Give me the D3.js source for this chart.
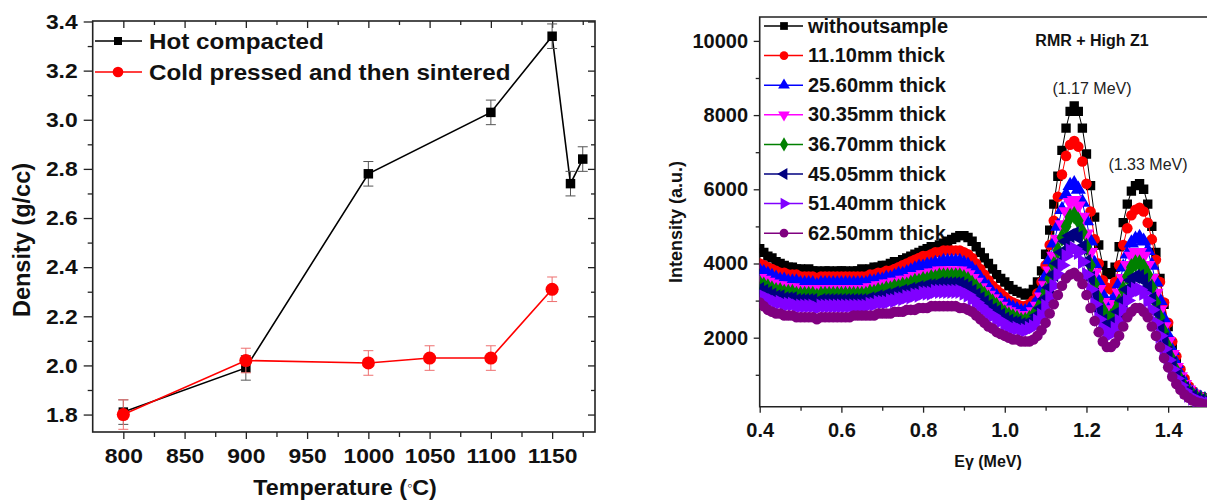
<!DOCTYPE html>
<html>
<head>
<meta charset="utf-8">
<script src="https://cdn.jsdelivr.net/npm/d3@7"></script>
<style>
  body { margin: 0; background: #fff; }
  text { font-family: 'Liberation Sans', Arial, sans-serif; }
</style>
</head>
<body>
<div id="chart"></div>
<script>
// ---- left panel data: density vs temperature
const TEMP_HOT = [800, 900, 1000, 1100, 1150, 1165, 1175];
const DENS_HOT = [1.81, 1.99, 2.78, 3.03, 3.34, 2.74, 2.84];
const ERR_HOT = [0.05, 0.05, 0.05, 0.05, 0.05, 0.05, 0.05];

const TEMP_COLD = [800, 900, 1000, 1050, 1100, 1150];
const DENS_COLD = [1.80, 2.02, 2.01, 2.03, 2.03, 2.31];
const ERR_COLD = [0.06, 0.05, 0.05, 0.05, 0.05, 0.05];

const TEMP_TICKS = [800, 850, 900, 950, 1000, 1050, 1100, 1150];
const TEMP_MINOR = [825, 875, 925, 975, 1025, 1075, 1125, 1175];
const DENS_TICKS = [1.8, 2.0, 2.2, 2.4, 2.6, 2.8, 3.0, 3.2, 3.4];
const DENS_MINOR = [1.9, 2.1, 2.3, 2.5, 2.7, 2.9, 3.1, 3.3];
const LEFT_LEGEND = ['Hot compacted', 'Cold pressed and then sintered'];

// ---- right panel data: gamma spectra (MeV, a.u.)
const ENERGY = [
  0.40, 0.41, 0.42, 0.43, 0.44, 0.45, 0.46, 0.47, 0.48, 0.49,
  0.50, 0.51, 0.52, 0.53, 0.54, 0.55, 0.56, 0.57, 0.58, 0.59,
  0.60, 0.61, 0.62, 0.63, 0.64, 0.65, 0.66, 0.67, 0.68, 0.69,
  0.70, 0.71, 0.72, 0.73, 0.74, 0.75, 0.76, 0.77, 0.78, 0.79,
  0.80, 0.81, 0.82, 0.83, 0.84, 0.85, 0.86, 0.87, 0.88, 0.89,
  0.90, 0.91, 0.92, 0.93, 0.94, 0.95, 0.96, 0.97, 0.98, 0.99,
  1.00, 1.01, 1.02, 1.03, 1.04, 1.05, 1.06, 1.07, 1.08, 1.09,
  1.10, 1.11, 1.12, 1.13, 1.14, 1.15, 1.16, 1.17, 1.18, 1.19,
  1.20, 1.21, 1.22, 1.23, 1.24, 1.25, 1.26, 1.27, 1.28, 1.29,
  1.30, 1.31, 1.32, 1.33, 1.34, 1.35, 1.36, 1.37, 1.38, 1.39,
  1.40, 1.41, 1.42, 1.43, 1.44, 1.45, 1.46, 1.47, 1.48, 1.49,
  1.50];

const WITHOUT_SAMPLE = [
  4400, 4300, 4200, 4150, 4050, 4000, 3950, 3900, 3900, 3850,
  3850, 3800, 3850, 3800, 3800, 3750, 3800, 3800, 3750, 3800,
  3800, 3800, 3750, 3800, 3800, 3850, 3800, 3850, 3900, 3900,
  3950, 3950, 4000, 4050, 4050, 4100, 4150, 4200, 4250, 4300,
  4350, 4400, 4450, 4450, 4500, 4550, 4600, 4650, 4700, 4750,
  4750, 4700, 4600, 4450, 4300, 4150, 4000, 3850, 3700, 3600,
  3500, 3400, 3300, 3250, 3200, 3150, 3200, 3300, 3500, 3800,
  4250, 4900, 5600, 6350, 7050, 7650, 8100, 8250, 8100, 7650,
  6950, 6100, 5250, 4500, 3950, 3750, 3700, 3900, 4450, 5100,
  5600, 5950, 6100, 6150, 6000, 5600, 5000, 4300, 3600, 2900,
  2300, 1800, 1400, 1100, 850, 650, 530, 450, 400, 360,
  330];
const MM_11_10 = [
  4000, 3950, 3900, 3850, 3800, 3750, 3750, 3700, 3700, 3700,
  3650, 3650, 3650, 3650, 3600, 3650, 3650, 3650, 3650, 3650,
  3650, 3650, 3650, 3650, 3650, 3650, 3650, 3700, 3700, 3750,
  3750, 3800, 3800, 3850, 3900, 3950, 4000, 4050, 4100, 4150,
  4200, 4200, 4250, 4300, 4300, 4350, 4350, 4350, 4350, 4350,
  4300, 4250, 4150, 4000, 3850, 3700, 3550, 3400, 3300, 3200,
  3100, 3000, 2950, 2900, 2850, 2850, 2900, 3000, 3200, 3500,
  3950, 4500, 5150, 5800, 6400, 6900, 7200, 7300, 7150, 6750,
  6150, 5400, 4650, 4000, 3550, 3350, 3300, 3500, 3950, 4500,
  4950, 5300, 5450, 5500, 5400, 5100, 4650, 4100, 3500, 2950,
  2400, 1900, 1500, 1150, 900, 700, 560, 470, 410, 370,
  340];
const MM_25_60 = [
  3800, 3750, 3700, 3650, 3600, 3550, 3550, 3500, 3500, 3500,
  3450, 3450, 3450, 3450, 3400, 3450, 3450, 3450, 3450, 3450,
  3450, 3450, 3450, 3450, 3450, 3450, 3450, 3500, 3500, 3550,
  3550, 3600, 3600, 3650, 3700, 3700, 3750, 3800, 3850, 3900,
  3900, 3950, 3950, 4000, 4000, 4050, 4050, 4050, 4050, 4050,
  4000, 3950, 3850, 3750, 3600, 3450, 3350, 3200, 3100, 3000,
  2900, 2850, 2800, 2750, 2700, 2700, 2750, 2850, 3000, 3300,
  3650, 4100, 4550, 5000, 5450, 5850, 6100, 6150, 6000, 5650,
  5150, 4600, 4000, 3500, 3150, 2950, 2950, 3100, 3450, 3900,
  4250, 4550, 4650, 4700, 4600, 4350, 3950, 3500, 3000, 2500,
  2050, 1650, 1300, 1000, 780, 620, 500, 420, 370, 330,
  300];
const MM_30_35 = [
  3600, 3550, 3500, 3450, 3400, 3400, 3350, 3350, 3350, 3300,
  3300, 3300, 3300, 3300, 3250, 3300, 3300, 3300, 3300, 3300,
  3300, 3300, 3300, 3300, 3300, 3300, 3300, 3350, 3350, 3400,
  3400, 3450, 3450, 3500, 3500, 3550, 3550, 3600, 3650, 3650,
  3700, 3700, 3750, 3750, 3800, 3800, 3800, 3800, 3800, 3800,
  3750, 3700, 3600, 3500, 3350, 3250, 3150, 3050, 2950, 2850,
  2750, 2700, 2650, 2600, 2550, 2550, 2600, 2700, 2850, 3100,
  3400, 3800, 4200, 4650, 5050, 5400, 5650, 5700, 5550, 5250,
  4800, 4300, 3750, 3300, 2950, 2750, 2750, 2900, 3200, 3600,
  3950, 4200, 4300, 4300, 4200, 3950, 3600, 3200, 2750, 2300,
  1900, 1550, 1200, 950, 740, 590, 480, 400, 350, 310,
  280];
const MM_36_70 = [
  3450, 3400, 3350, 3300, 3250, 3250, 3200, 3200, 3200, 3150,
  3150, 3150, 3150, 3150, 3100, 3150, 3150, 3150, 3150, 3150,
  3150, 3150, 3150, 3150, 3150, 3150, 3150, 3200, 3200, 3250,
  3250, 3300, 3300, 3350, 3350, 3400, 3400, 3450, 3500, 3500,
  3550, 3550, 3600, 3600, 3650, 3650, 3650, 3650, 3650, 3650,
  3600, 3550, 3450, 3350, 3250, 3150, 3050, 2950, 2850, 2750,
  2650, 2600, 2550, 2500, 2450, 2450, 2500, 2600, 2750, 2950,
  3250, 3600, 3950, 4350, 4700, 5000, 5250, 5300, 5150, 4850,
  4450, 3950, 3450, 3050, 2750, 2550, 2550, 2700, 2950, 3300,
  3650, 3900, 4000, 4000, 3900, 3700, 3350, 2950, 2550, 2150,
  1750, 1400, 1100, 870, 680, 540, 440, 370, 320, 290,
  260];
const MM_45_05 = [
  3300, 3250, 3200, 3150, 3100, 3100, 3050, 3050, 3050, 3000,
  3000, 3000, 3000, 3000, 2950, 3000, 3000, 3000, 3000, 3000,
  3000, 3000, 3000, 3000, 3000, 3000, 3000, 3050, 3050, 3100,
  3100, 3150, 3150, 3200, 3200, 3250, 3250, 3300, 3300, 3350,
  3350, 3400, 3400, 3400, 3450, 3450, 3450, 3450, 3450, 3450,
  3400, 3350, 3250, 3150, 3050, 2950, 2850, 2750, 2700, 2600,
  2500, 2450, 2400, 2400, 2350, 2350, 2400, 2450, 2600, 2800,
  3050, 3350, 3700, 4000, 4300, 4600, 4750, 4800, 4700, 4450,
  4050, 3600, 3150, 2750, 2450, 2300, 2300, 2450, 2700, 3000,
  3300, 3550, 3650, 3650, 3550, 3350, 3050, 2700, 2300, 1950,
  1600, 1300, 1000, 800, 630, 500, 410, 340, 300, 270,
  240];
const MM_51_40 = [
  3150, 3100, 3050, 3000, 2950, 2950, 2900, 2900, 2900, 2850,
  2850, 2850, 2850, 2850, 2800, 2850, 2850, 2850, 2850, 2850,
  2850, 2850, 2850, 2850, 2850, 2850, 2850, 2900, 2900, 2950,
  2950, 2950, 3000, 3000, 3050, 3050, 3100, 3100, 3150, 3150,
  3200, 3200, 3200, 3250, 3250, 3250, 3250, 3250, 3250, 3250,
  3200, 3150, 3050, 2950, 2850, 2750, 2650, 2600, 2500, 2450,
  2350, 2300, 2250, 2250, 2200, 2200, 2250, 2300, 2450, 2600,
  2850, 3100, 3400, 3700, 3950, 4200, 4350, 4400, 4300, 4050,
  3700, 3300, 2900, 2500, 2250, 2100, 2100, 2250, 2450, 2750,
  3000, 3200, 3300, 3300, 3200, 3000, 2750, 2400, 2050, 1700,
  1400, 1150, 900, 720, 560, 450, 370, 310, 270, 240,
  220];
const MM_62_50 = [
  2950, 2850, 2750, 2700, 2650, 2650, 2600, 2600, 2600, 2550,
  2550, 2550, 2550, 2550, 2500, 2550, 2550, 2550, 2550, 2550,
  2550, 2550, 2550, 2600, 2600, 2600, 2600, 2600, 2600, 2650,
  2650, 2650, 2650, 2700, 2700, 2700, 2750, 2750, 2750, 2800,
  2800, 2800, 2850, 2850, 2850, 2850, 2850, 2850, 2850, 2800,
  2800, 2750, 2700, 2600, 2500, 2400, 2300, 2250, 2150, 2100,
  2050, 2000, 1950, 1950, 1900, 1900, 1900, 1950, 2050, 2200,
  2400, 2650, 2900, 3150, 3400, 3600, 3700, 3750, 3650, 3450,
  3150, 2800, 2450, 2150, 1900, 1750, 1750, 1850, 2050, 2300,
  2550, 2700, 2800, 2800, 2700, 2550, 2300, 2050, 1750, 1450,
  1200, 950, 750, 600, 470, 380, 310, 260, 230, 200,
  180];

const SERIES_LABELS = ['withoutsample', '11.10mm thick', '25.60mm thick', '30.35mm thick',
  '36.70mm thick', '45.05mm thick', '51.40mm thick', '62.50mm thick'];
const SERIES_VALUES = [WITHOUT_SAMPLE, MM_11_10, MM_25_60, MM_30_35, MM_36_70, MM_45_05, MM_51_40, MM_62_50];
const SERIES_COLORS = ['#000000', '#ff0000', '#0000ff', '#ff00ff', '#008000', '#000080', '#8000ff', '#800080'];
const SERIES_SYMBOLS = ['square', 'circle', 'up', 'down', 'diamond', 'left', 'right', 'circle'];

const E_TICKS = [0.4, 0.6, 0.8, 1.0, 1.2, 1.4];
const E_MINOR = [0.5, 0.7, 0.9, 1.1, 1.3];
const I_TICKS = [2000, 4000, 6000, 8000, 10000];
const I_MINOR = [1000, 3000, 5000, 7000, 9000];

// ---------------------------------------------------------------
const svg = d3.select('#chart').append('svg')
  .attr('width', 1207)
  .attr('height', 503)
  .style('display', 'block');

svg.append('rect').attr('width', 1207).attr('height', 503).attr('fill', '#fff');

const AXIS_COLOR = '#222';

function symbolPath(kind, size) {
  const types = { square: d3.symbolSquare, circle: d3.symbolCircle, diamond: d3.symbolDiamond };
  return d3.symbol().type(types[kind] || d3.symbolTriangle).size(size)();
}
function symbolRotate(kind) {
  return { down: 180, left: -90, right: 90 }[kind] || 0;
}

function styleAxis(g) {
  g.select('.domain').remove();
  g.selectAll('line').attr('stroke', AXIS_COLOR).attr('stroke-width', 1.3);
  g.selectAll('text').attr('fill', '#111').attr('font-weight', 'bold');
}

// ================= LEFT PANEL =================
const L = { x0: 92.7, x1: 595, y0: 21, y1: 432 };
const xL = d3.scaleLinear().domain([775, 1185]).range([L.x0, L.x1]);
const yL = d3.scaleLinear().domain([1.729, 3.402]).range([L.y1, L.y0]);

const gL = svg.append('g');

// bottom
gL.append('g').attr('transform', `translate(0,${L.y1})`)
  .call(d3.axisBottom(xL).tickValues(TEMP_MINOR).tickSize(5).tickFormat(''))
  .call(styleAxis);
gL.append('g').attr('transform', `translate(0,${L.y1})`)
  .call(d3.axisBottom(xL).tickValues(TEMP_TICKS).tickSize(7).tickPadding(9).tickFormat(d3.format('d')))
  .call(styleAxis)
  .call(g => g.selectAll('text').attr('font-size', 21).attr('transform', 'scale(1.09,1)'));
// top (inward)
gL.append('g').attr('transform', `translate(0,${L.y0})`)
  .call(d3.axisTop(xL).tickValues(TEMP_MINOR).tickSize(-4).tickFormat(''))
  .call(styleAxis);
gL.append('g').attr('transform', `translate(0,${L.y0})`)
  .call(d3.axisTop(xL).tickValues(TEMP_TICKS).tickSize(-7).tickFormat(''))
  .call(styleAxis);
// left
gL.append('g').attr('transform', `translate(${L.x0},0)`)
  .call(d3.axisLeft(yL).tickValues(DENS_MINOR).tickSize(5).tickFormat(''))
  .call(styleAxis);
gL.append('g').attr('transform', `translate(${L.x0},0)`)
  .call(d3.axisLeft(yL).tickValues(DENS_TICKS).tickSize(9).tickPadding(6).tickFormat(d3.format('.1f')))
  .call(styleAxis)
  .call(g => g.selectAll('text').attr('font-size', 21)
    .attr('x', -15 / 1.09).attr('transform', 'scale(1.09,1)'));
// right (inward)
gL.append('g').attr('transform', `translate(${L.x1},0)`)
  .call(d3.axisRight(yL).tickValues(DENS_MINOR).tickSize(-4).tickFormat(''))
  .call(styleAxis);
gL.append('g').attr('transform', `translate(${L.x1},0)`)
  .call(d3.axisRight(yL).tickValues(DENS_TICKS).tickSize(-7).tickFormat(''))
  .call(styleAxis);

gL.append('rect')
  .attr('x', L.x0).attr('y', L.y0)
  .attr('width', L.x1 - L.x0).attr('height', L.y1 - L.y0)
  .attr('fill', 'none').attr('stroke', AXIS_COLOR).attr('stroke-width', 1.6);

// axis titles
gL.append('text')
  .attr('transform', 'translate(345,495) scale(1.06,1)')
  .attr('text-anchor', 'middle').attr('font-size', 22).attr('font-weight', 'bold').attr('fill', '#111')
  .text('Temperature (')
  .call(t => t.append('tspan').attr('font-size', 14).attr('dy', -5).text('\u25E6'))
  .call(t => t.append('tspan').attr('dy', 5).text('C)'));

gL.append('text')
  .attr('transform', 'translate(30,240) rotate(-90)')
  .attr('text-anchor', 'middle').attr('font-size', 23.5).attr('font-weight', 'bold').attr('fill', '#111')
  .text('Density (g/cc)');

const lineL = d3.line().x(d => xL(d[0])).y(d => yL(d[1]));

function drawDensity(temps, dens, errs, color, errColor, kind, size) {
  const pts = d3.zip(temps, dens, errs);
  const g = gL.append('g');
  g.append('path').datum(pts).attr('d', lineL)
    .attr('fill', 'none').attr('stroke', color).attr('stroke-width', 1.6);
  const eb = g.selectAll('g.err').data(pts).join('g').attr('class', 'err')
    .attr('stroke', errColor).attr('stroke-width', 1);
  eb.append('line')
    .attr('x1', d => xL(d[0])).attr('x2', d => xL(d[0]))
    .attr('y1', d => yL(d[1] - d[2])).attr('y2', d => yL(d[1] + d[2]));
  eb.append('line')
    .attr('x1', d => xL(d[0]) - 5).attr('x2', d => xL(d[0]) + 5)
    .attr('y1', d => yL(d[1] - d[2])).attr('y2', d => yL(d[1] - d[2]));
  eb.append('line')
    .attr('x1', d => xL(d[0]) - 5).attr('x2', d => xL(d[0]) + 5)
    .attr('y1', d => yL(d[1] + d[2])).attr('y2', d => yL(d[1] + d[2]));
  g.selectAll('path.mk').data(pts).join('path').attr('class', 'mk')
    .attr('d', symbolPath(kind, size))
    .attr('transform', d => `translate(${xL(d[0])},${yL(d[1])})`)
    .attr('fill', color);
}

drawDensity(TEMP_HOT, DENS_HOT, ERR_HOT, '#000', '#555', 'square', 90);
drawDensity(TEMP_COLD, DENS_COLD, ERR_COLD, '#ff0000', '#ee7070', 'circle', 135);

// left legend
const legL = gL.append('g');
[['#000', 'square', 64], ['#ff0000', 'circle', 90]].forEach((s, i) => {
  const y = 41 + i * 31;
  legL.append('line').attr('x1', 95).attr('x2', 142).attr('y1', y).attr('y2', y)
    .attr('stroke', s[0]).attr('stroke-width', 1.6);
  legL.append('path').attr('d', symbolPath(s[1], s[2]))
    .attr('transform', `translate(118,${y})`).attr('fill', s[0]);
  legL.append('text')
    .attr('transform', `translate(149,${y + 7.5}) scale(1.1,1)`)
    .attr('font-size', 22).attr('font-weight', 'bold').attr('fill', '#111')
    .text(LEFT_LEGEND[i]);
});

// ================= RIGHT PANEL =================
const R = { x0: 759.7, x1: 1209, y0: 17, y1: 406.7 };
const xR = d3.scaleLinear().domain([0.4, 1.5]).range([R.x0, R.x1]);
const yR = d3.scaleLinear().domain([140, 10644]).range([R.y1, R.y0]);

const gR = svg.append('g');

gR.append('g').attr('transform', `translate(0,${R.y1})`)
  .call(d3.axisBottom(xR).tickValues(E_MINOR).tickSize(4).tickFormat(''))
  .call(styleAxis);
gR.append('g').attr('transform', `translate(0,${R.y1})`)
  .call(d3.axisBottom(xR).tickValues(E_TICKS).tickSize(6).tickPadding(10).tickFormat(d3.format('.1f')))
  .call(styleAxis)
  .call(g => g.selectAll('text').attr('font-size', 20));
gR.append('g').attr('transform', `translate(${R.x0},0)`)
  .call(d3.axisLeft(yR).tickValues(I_MINOR).tickSize(4).tickFormat(''))
  .call(styleAxis);
gR.append('g').attr('transform', `translate(${R.x0},0)`)
  .call(d3.axisLeft(yR).tickValues(I_TICKS).tickSize(6).tickPadding(5.7).tickFormat(d3.format('d')))
  .call(styleAxis)
  .call(g => g.selectAll('text').attr('font-size', 20));

gR.append('path')
  .attr('d', `M${R.x1},${R.y0}H${R.x0}V${R.y1}H${R.x1}`)
  .attr('fill', 'none').attr('stroke', AXIS_COLOR).attr('stroke-width', 1.6);

gR.append('text')
  .attr('x', 988).attr('y', 467)
  .attr('text-anchor', 'middle').attr('font-size', 16).attr('font-weight', 'bold').attr('fill', '#111')
  .text('E\u03B3 (MeV)');
gR.append('text')
  .attr('transform', 'translate(682,222) rotate(-90)')
  .attr('text-anchor', 'middle').attr('font-size', 18).attr('font-weight', 'bold').attr('fill', '#111')
  .text('Intensity (a.u.)');

// legend (drawn under the spectra)
const legR = gR.append('g');
SERIES_LABELS.forEach((label, i) => {
  const y = 26 + i * 29.6;
  legR.append('line').attr('x1', 764).attr('x2', 803).attr('y1', y).attr('y2', y)
    .attr('stroke', SERIES_COLORS[i]).attr('stroke-width', 1.5);
  legR.append('path').attr('d', symbolPath(SERIES_SYMBOLS[i], 60))
    .attr('transform', `translate(784,${y}) rotate(${symbolRotate(SERIES_SYMBOLS[i])})`)
    .attr('fill', SERIES_COLORS[i]);
  legR.append('text')
    .attr('x', 808).attr('y', y + 6.5)
    .attr('font-size', 20).attr('font-weight', 'bold').attr('fill', '#111')
    .text(label);
});

svg.append('clipPath').attr('id', 'clipR').append('rect')
  .attr('x', R.x0).attr('y', R.y0).attr('width', R.x1 - R.x0).attr('height', R.y1 - R.y0);

const plotR = gR.append('g').attr('clip-path', 'url(#clipR)');
const lineR = d3.line().x(d => xR(d[0])).y(d => yR(d[1]));

SERIES_VALUES.forEach((vals, i) => {
  const pts = d3.zip(ENERGY, vals);
  const g = plotR.append('g');
  const kind = SERIES_SYMBOLS[i];
  g.append('path').datum(pts).attr('d', lineR)
    .attr('fill', 'none').attr('stroke', SERIES_COLORS[i]).attr('stroke-width', 1);
  g.selectAll('path.mk').data(pts).join('path').attr('class', 'mk')
    .attr('d', symbolPath(kind, kind === 'square' || kind === 'circle' ? 88 : 100))
    .attr('transform', d => `translate(${xR(d[0])},${yR(d[1])}) rotate(${symbolRotate(kind)})`)
    .attr('fill', SERIES_COLORS[i]);
});

// annotations
gR.append('text').attr('x', 1092).attr('y', 46)
  .attr('text-anchor', 'middle').attr('font-size', 16).attr('font-weight', 'bold').attr('fill', '#111')
  .text('RMR + High Z1');
gR.append('text').attr('x', 1092).attr('y', 94)
  .attr('text-anchor', 'middle').attr('font-size', 16).attr('fill', '#222')
  .text('(1.17 MeV)');
gR.append('text').attr('x', 1148).attr('y', 170)
  .attr('text-anchor', 'middle').attr('font-size', 16).attr('fill', '#222')
  .text('(1.33 MeV)');
</script>
</body>
</html>
